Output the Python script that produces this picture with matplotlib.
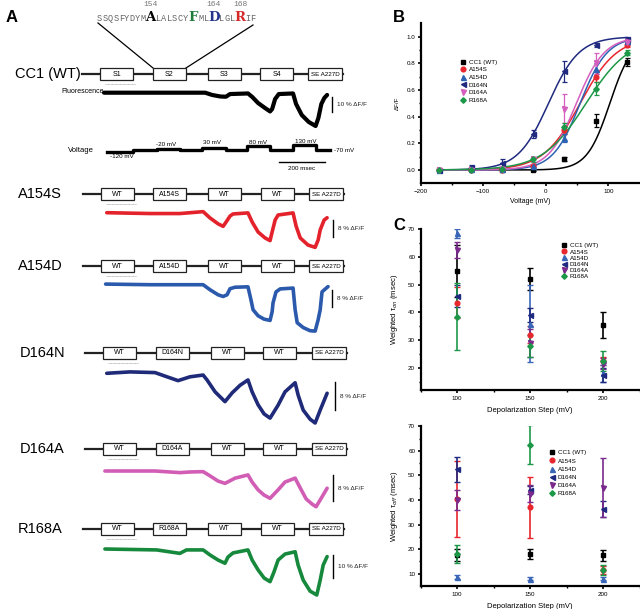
import numpy as np
import matplotlib
matplotlib.use('Agg')
import matplotlib.pyplot as plt
from matplotlib.patches import Rectangle
from matplotlib.lines import Line2D

plt.rcParams['font.family'] = ['Liberation Sans', 'DejaVu Sans']

# ------------------------------------------------------------------ data
constructs = ['CC1 (WT)', 'A154S', 'A154D', 'D164N', 'D164A', 'R168A']
domains = [['S1', 'S2', 'S3', 'S4', 'SE A227D'],
           ['WT', 'A154S', 'WT', 'WT', 'SE A227D'],
           ['WT', 'A154D', 'WT', 'WT', 'SE A227D'],
           ['WT', 'D164N', 'WT', 'WT', 'SE A227D'],
           ['WT', 'D164A', 'WT', 'WT', 'SE A227D'],
           ['WT', 'R168A', 'WT', 'WT', 'SE A227D']]
sequence = 'SSQSFYDYMALALSCYFMLDLGLRIF'
highlight = {9: ('A', '154'), 16: ('F', None), 19: ('D', '164'), 23: ('R', '168')}

# fluorescence traces: time (ms), dF/F (%)
t_wt = [0, 440, 470, 505, 530, 548, 626, 645, 670, 700, 722, 731, 744, 760, 822, 835, 860, 890, 920, 932, 945, 958, 970]
f_wt = [0, 0, -1.5, -2.5, -2.7, -0.9, -0.5, -2.9, -6.9, -10.2, -12.5, -10.9, -4.2, -0.9, -0.5, -7.5, -14.9, -19.5, -22.2, -16.9, -7.5, -3.5, -1.5]
t_a154s = [12, 200, 330, 431, 461, 496, 518, 531, 548, 561, 626, 644, 670, 700, 722, 731, 744, 757, 822, 835, 853, 887, 918, 931, 940, 957, 970]
f_a154s = [0, -0.4, -0.4, 0.5, -2.5, -5.3, -6.5, -4.4, -1.6, -0.6, -0.1, -4.4, -9.2, -12.0, -13.3, -9.2, -3.5, -1.1, -0.1, -6.3, -12.0, -15.4, -16.5, -13.0, -8.2, -3.5, -2.4]
t_a154d = [7, 200, 431, 461, 496, 518, 535, 548, 570, 626, 639, 648, 670, 696, 722, 731, 735, 748, 766, 822, 831, 840, 866, 896, 918, 931, 940, 948, 974]
f_a154d = [0.2, -0.1, -0.1, -2.5, -4.9, -5.7, -4.9, -2.0, -1.3, -1.1, -7.3, -12.0, -14.9, -16.5, -17.1, -13.0, -8.7, -3.5, -2.1, -1.7, -12.0, -18.2, -20.5, -22.0, -22.2, -16.8, -12.0, -3.5, -1.0]
t_d164n = [12, 113, 222, 265, 322, 374, 431, 448, 483, 526, 557, 592, 626, 644, 670, 696, 722, 757, 787, 831, 844, 866, 896, 918, 940, 970]
f_d164n = [0, 0.4, 0.2, -0.8, -2.1, -1.0, -0.5, -1.9, -5.3, -8.1, -5.6, -3.4, -1.9, -5.3, -9.0, -11.6, -12.8, -9.1, -5.3, -2.7, -6.2, -10.5, -13.1, -14.2, -10.5, -5.7]
t_d164a = [4, 222, 330, 374, 431, 461, 496, 526, 570, 626, 644, 670, 696, 722, 757, 787, 831, 853, 879, 905, 922, 940, 970]
f_d164a = [0, 0, -0.5, -0.3, -0.2, -1.5, -3.1, -3.8, -2.2, -1.2, -3.4, -5.8, -7.4, -8.4, -5.8, -3.4, -2.2, -5.2, -8.6, -10.2, -11.0, -8.9, -5.3]
t_r168a = [4, 229, 330, 359, 431, 461, 496, 526, 539, 561, 626, 644, 670, 696, 722, 739, 757, 787, 831, 844, 866, 896, 925, 940, 953, 970]
f_r168a = [0, -0.4, -1.9, -0.4, -0.4, -2.6, -4.8, -6.2, -3.5, -1.7, -0.4, -4.8, -9.1, -12.6, -14.2, -10.0, -4.8, -2.2, -1.2, -7.0, -13.5, -18.3, -20.0, -13.5, -7.0, -3.3]
scale_pct = [10, 8, 8, 8, 8, 10]

# voltage protocol
step_times = [13, 126, 230, 331, 427, 531, 622, 722, 822, 922, 983]
step_mv = [-120, -70, -20, -70, 30, -70, 80, -70, 130, -70]
step_labels = ['-120 mV', '-20 mV', '30 mV', '80 mV', '130 mV', '-70 mV']

# Panel B: F-V
voltages = [-170, -120, -70, -20, 30, 80, 130]
series = ['CC1 (WT)', 'A154S', 'A154D', 'D164N', 'D164A', 'R168A']
fv_wt = [0.0, 0.01, 0.0, 0.0, 0.08, 0.37, 0.81]
fv_wt_err = [0.005, 0.01, 0.005, 0.01, 0.015, 0.05, 0.03]
fv_a154s = [0.0, 0.0, 0.0, 0.03, 0.30, 0.70, 0.94]
fv_a154s_err = [0.005, 0.005, 0.005, 0.01, 0.03, 0.04, 0.015]
fv_a154d = [0.0, 0.01, 0.01, 0.03, 0.24, 0.76, 0.97]
fv_a154d_err = [0.005, 0.01, 0.01, 0.01, 0.03, 0.04, 0.02]
fv_d164n = [0.0, 0.02, 0.05, 0.27, 0.74, 0.94, 0.98]
fv_d164n_err = [0.005, 0.015, 0.03, 0.03, 0.08, 0.015, 0.02]
fv_d164a = [0.0, 0.0, 0.01, 0.08, 0.46, 0.80, 0.96]
fv_d164a_err = [0.005, 0.005, 0.01, 0.02, 0.11, 0.08, 0.02]
fv_r168a = [0.0, 0.0, 0.01, 0.08, 0.32, 0.61, 0.88]
fv_r168a_err = [0.005, 0.005, 0.01, 0.02, 0.03, 0.05, 0.02]
v_half = [102.5, 55, 55, 4.4, 49, 64.5]
slope_k = [18.2, 29.5, 21.7, 24.5, 22.4, 34.7]

# Panel C
steps = [100, 150, 200]
ton_wt = [55, 52, 35.5];      ton_wt_err = [9.5, 4, 4.7]
ton_a154s = [43.5, 32, 22.5]; ton_a154s_err = [5.5, 3, 1.5]
ton_a154d = [68.5, 36, 18];   ton_a154d_err = [1.5, 14, 3]
ton_d164n = [46, 39, 17.5];   ton_d164n_err = [4, 2.5, 2.5]
ton_d164a = [62.5, 29, 21.5]; ton_d164a_err = [3, 5, 2]
ton_r168a = [38.5, 28, 22.5]; ton_r168a_err = [12, 4, 3.5]

toff_wt = [17.5, 18, 17.5];     toff_wt_err = [2.5, 2.2, 2.3]
toff_a154s = [40.5, 37, 11.5];  toff_a154s_err = [15.5, 12.5, 1.5]
toff_a154d = [8.5, 8, 8];       toff_a154d_err = [0.8, 0.7, 0.7]
toff_d164n = [52.5, 44, 36.3];  toff_d164n_err = [5, 1.5, 3.3]
toff_d164a = [40, 42.5, 45];    toff_d164a_err = [4, 3.5, 12]
toff_r168a = [18, 62.5, 11.5];  toff_r168a_err = [3.5, 8, 2]

# ------------------------------------------------------------------ style
trace_colors = ['black', '#e3222b', '#2b5aad', '#1f2a78', '#d25db5', '#17893d']
b_colors = ['black', '#e8262e', '#2d63b3', '#1f2a80', '#d55fbd', '#1c9848']
c_colors = ['black', '#e8262e', '#3a66b8', '#1f2a80', '#7a2a8c', '#1c9848']
markers = ['s', 'o', '^', '<', 'v', 'D']
msizes = [3.2, 3.4, 3.6, 3.6, 3.6, 2.8]

W, H = 640, 609
fig = plt.figure(figsize=(6.4, 6.09), dpi=100)
axA = fig.add_axes([0, 0, 1, 1])
axA.set_xlim(0, W)
axA.set_ylim(H, 0)
axA.axis('off')

# --- Panel labels
axA.text(6, 17, 'A', fontsize=12, fontweight='bold', va='center', ha='left')
axA.text(393, 17, 'B', fontsize=12, fontweight='bold', va='center', ha='left')
axA.text(393, 225, 'C', fontsize=12, fontweight='bold', va='center', ha='left')

# sequence
hl_colors = {9: 'black', 16: '#1d7f3a', 19: '#25358e', 23: '#d42a2a'}
x = 97.0
for i, ch in enumerate(sequence):
    if i in highlight:
        w = 10.0
        axA.text(x + w / 2, 17.5, ch, fontsize=9.5, fontweight='bold', family='DejaVu Serif',
                 color=hl_colors[i], ha='center', va='center')
        num = highlight[i][1]
        if num:
            axA.text(x + w / 2, 4, num, fontsize=5.8, family='Liberation Mono', color='#777777',
                     ha='center', va='center')
    else:
        w = 5.4
        axA.text(x + w / 2, 18.5, ch, fontsize=6.2, family='Liberation Mono', color='#666666',
                 ha='center', va='center')
    x += w
axA.plot([98, 153], [23, 68], color='black', lw=0.9)
axA.plot([253, 186], [25, 68], color='black', lw=0.9)

row_y = [74, 194, 266, 353, 449, 529]
row_label_x = [15, 18, 18, 20, 20, 18]
box_x = [[100, 153, 208, 260, 308], [101, 153, 208, 261, 309], [101, 153, 208, 261, 309],
         [103, 156, 211, 263, 312], [103, 156, 211, 263, 312], [101, 153, 208, 261, 309]]
trace_base = [92.7, 212.7, 284.5, 373.3, 471, 549]
px_per_pct = [1.5, 2.1, 2.1, 3.5, 3.25, 2.3]
bar_x = [332, 333, 332, 335, 333, 333]
bar_top = [97, 220, 290, 382, 475, 555]
traces_t = [t_wt, t_a154s, t_a154d, t_d164n, t_d164a, t_r168a]
traces_f = [f_wt, f_a154s, f_a154d, f_d164n, f_d164a, f_r168a]
ms_per_px = 200 / 46.0

for r in range(6):
    y = row_y[r]
    axA.text(row_label_x[r], y, constructs[r], fontsize=10.5, ha='left', va='center')
    axA.plot([box_x[r][0] - 18, box_x[r][-1] + 35], [y, y], color='#222222', lw=1.6, zorder=1)
    for j, lab in enumerate(domains[r]):
        bw = 34 if j == 4 else 33
        axA.add_patch(Rectangle((box_x[r][j], y - 6), bw, 12, facecolor='white',
                                edgecolor='#222222', lw=0.9, zorder=2))
        axA.text(box_x[r][j] + bw / 2, y, lab, fontsize=4.5 if j == 4 else 5.0,
                 ha='center', va='center', zorder=3)
    axA.plot([box_x[r][0] + 5, box_x[r][0] + 35], [y + 10, y + 10], color='#aaaaaa',
             lw=0.6, ls=(0, (1, 0.6)))
    tx = 104 + np.array(traces_t[r]) / ms_per_px
    ty = trace_base[r] - np.array(traces_f[r]) * px_per_pct[r]
    axA.plot(tx, ty, color=trace_colors[r], lw=3.0 if r == 0 else 2.6,
             solid_joinstyle='round', solid_capstyle='round')
    blen = scale_pct[r] * px_per_pct[r]
    axA.plot([bar_x[r], bar_x[r]], [bar_top[r], bar_top[r] + blen], color='black', lw=1.0)
    axA.text(bar_x[r] + 5, bar_top[r] + blen / 2, '%d %% \u0394F/F' % scale_pct[r],
             fontsize=4.6, ha='left', va='center', color='#222222')

axA.text(61, 91.7, 'Fluorescence', fontsize=5, ha='left', va='center')
axA.text(68, 150, 'Voltage', fontsize=5.5, ha='left', va='center')

# voltage trace
v_base_px, px_per_mv = 150.3, 0.028
vx = 104 + np.array(step_times) / ms_per_px
vy = v_base_px - (np.array(step_mv + [step_mv[-1]]) + 70) * px_per_mv
axA.step(vx, vy, where='post', color='black', lw=2.4)
lab_pos = [(122, 156.5), (166, 144), (212, 143), (258, 142.5), (306, 141.5), (334, 150)]
for (lx, ly), lab in zip(lab_pos, step_labels):
    axA.text(lx, ly, lab, fontsize=4.5, ha='left' if lab == '-70 mV' else 'center', va='center')
axA.plot([279, 279 + 200 / ms_per_px], [161.5, 161.5], color='black', lw=1.0)
axA.text(302, 168, '200 msec', fontsize=4.5, ha='center', va='center')


# --- axes helpers
def fig_rect(left, right, top, bottom):
    return [left / W, 1 - bottom / H, (right - left) / W, (bottom - top) / H]


def style(ax):
    for s in ['top', 'right']:
        ax.spines[s].set_visible(False)
    for s in ['left', 'bottom']:
        ax.spines[s].set_linewidth(1.6)
    ax.tick_params(which='major', direction='out', length=2.5, width=1.2, labelsize=4.5, pad=1.5)
    ax.tick_params(which='minor', direction='out', length=1.6, width=1.0)
    ax.patch.set_alpha(0)


# --- Panel B
axB = fig.add_axes(fig_rect(420.7, 639.5, 23.4, 183.3))
style(axB)
fv_vals = [fv_wt, fv_a154s, fv_a154d, fv_d164n, fv_d164a, fv_r168a]
fv_errs = [fv_wt_err, fv_a154s_err, fv_a154d_err, fv_d164n_err, fv_d164a_err, fv_r168a_err]
vv = np.linspace(-170, 130, 300)
handlesB = []
for i in range(6):
    fit = 1.0 / (1.0 + np.exp(-(vv - v_half[i]) / slope_k[i]))
    axB.plot(vv, fit, color=b_colors[i], lw=1.1, zorder=2)
for i in range(6):
    axB.errorbar(voltages, fv_vals[i], yerr=fv_errs[i], fmt=markers[i], color=b_colors[i],
                 ms=msizes[i], elinewidth=0.9, capsize=1.8, capthick=0.9, zorder=3)
    handlesB.append(Line2D([], [], ls='none', marker=markers[i], color=b_colors[i], ms=msizes[i]))
axB.set_xlim(-200, 150)
axB.set_ylim(-0.1, 1.1)
axB.set_xticks([-200, -100, 0, 100])
axB.set_xticks([-150, -50, 50], minor=True)
axB.set_yticks([0, 0.2, 0.4, 0.6, 0.8, 1.0])
axB.set_yticks([0.1, 0.3, 0.5, 0.7, 0.9], minor=True)
axB.set_yticklabels(['0.0', '0.2', '0.4', '0.6', '0.8', '1.0'])
axB.set_xlabel('Voltage (mV)', fontsize=5, labelpad=3)
axB.set_ylabel('\u0394F/F', fontsize=4.5, labelpad=5)
axB.legend(handlesB, series, loc='upper left', bbox_to_anchor=(460 / W, 1 - 59.5 / H),
           bbox_transform=fig.transFigure, frameon=False, fontsize=4.5, handlelength=0.8,
           handletextpad=0.6, labelspacing=0.35, borderpad=0, borderaxespad=0)


# --- Panel C
def panelC(rect, vals, errs, ylim, yticks, yminor, ylabel, leg_anchor, spacing):
    ax = fig.add_axes(rect)
    style(ax)
    hs = []
    for i in range(6):
        ax.errorbar(steps, vals[i], yerr=errs[i], fmt=markers[i], color=c_colors[i],
                    ms=msizes[i], elinewidth=1.2, capsize=2.2, capthick=1.0, zorder=3)
        hs.append(Line2D([], [], ls='none', marker=markers[i], color=c_colors[i], ms=msizes[i]))
    ax.set_xlim(75, 225)
    ax.set_ylim(*ylim)
    ax.set_xticks(steps)
    ax.set_xticks([75, 125, 175, 225], minor=True)
    ax.set_yticks(yticks)
    ax.set_yticks(yminor, minor=True)
    ax.set_xlabel('Depolarization Step (mV)', fontsize=5.5, labelpad=5)
    ax.set_ylabel(ylabel, fontsize=5.5, labelpad=6)
    ax.legend(hs, series, loc='upper left', bbox_to_anchor=leg_anchor,
              bbox_transform=fig.transFigure, frameon=False, fontsize=4.5, handlelength=0.8,
              handletextpad=0.6, labelspacing=spacing, borderpad=0, borderaxespad=0)
    return ax


ton_vals = [ton_wt, ton_a154s, ton_a154d, ton_d164n, ton_d164a, ton_r168a]
ton_errs = [ton_wt_err, ton_a154s_err, ton_a154d_err, ton_d164n_err, ton_d164a_err, ton_r168a_err]
toff_vals = [toff_wt, toff_a154s, toff_a154d, toff_d164n, toff_d164a, toff_r168a]
toff_errs = [toff_wt_err, toff_a154s_err, toff_a154d_err, toff_d164n_err, toff_d164a_err, toff_r168a_err]

panelC(fig_rect(420.7, 639.7, 229.3, 390), ton_vals, ton_errs, (12, 70),
       [20, 30, 40, 50, 60, 70], [15, 25, 35, 45, 55, 65],
       'Weighted \u03c4$_{on}$ (msec)', (561 / W, 1 - 243 / H), 0.12)
panelC(fig_rect(420.7, 639.7, 426.3, 586), toff_vals, toff_errs, (5, 70),
       [10, 20, 30, 40, 50, 60, 70], [15, 25, 35, 45, 55, 65],
       'Weighted \u03c4$_{off}$ (msec)', (549 / W, 1 - 450 / H), 0.45)

fig.savefig('out.png', dpi=100)
